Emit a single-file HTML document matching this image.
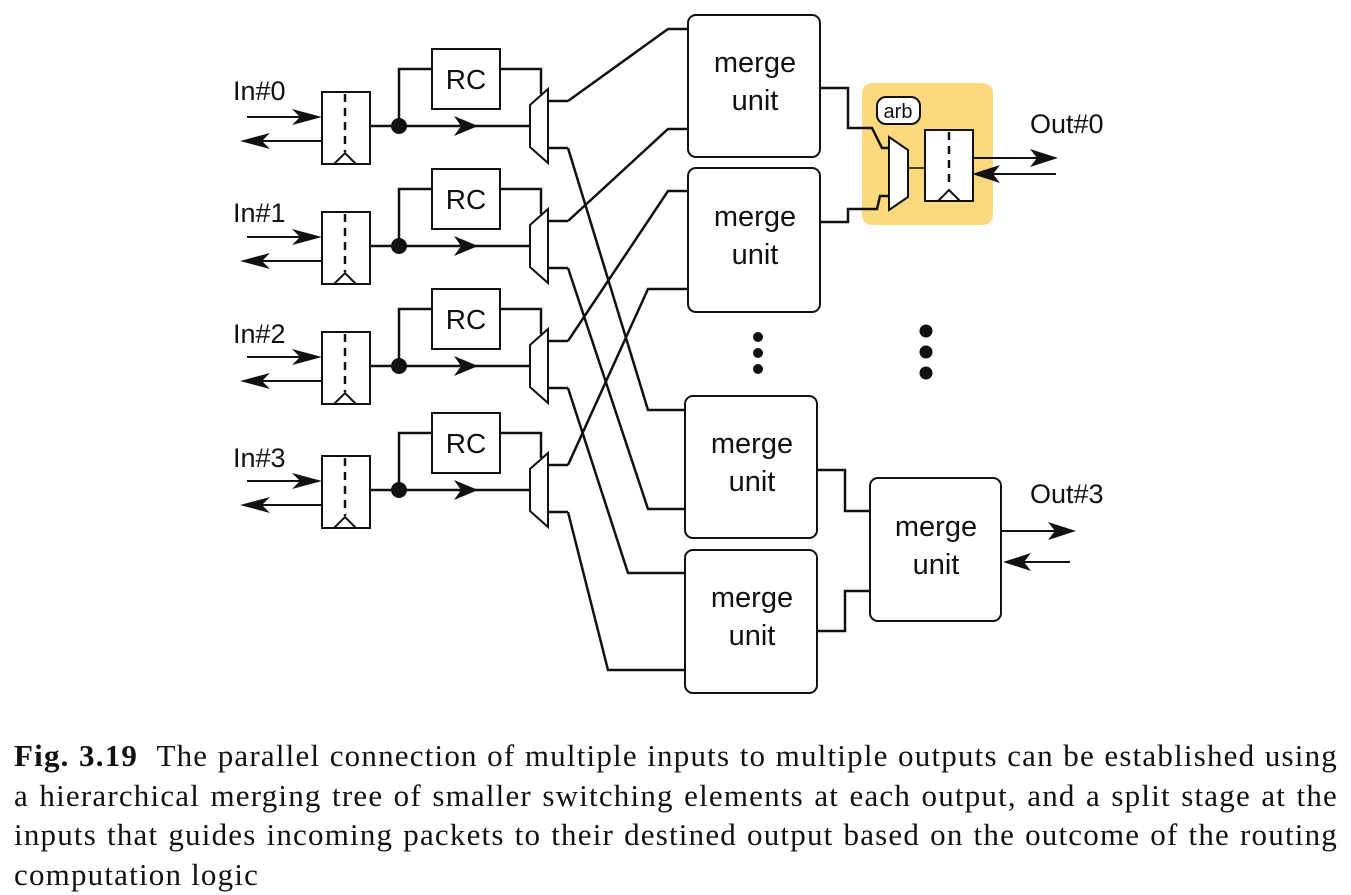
<!DOCTYPE html>
<html><head><meta charset="utf-8"><style>
html,body{margin:0;padding:0;background:#fff;}
.cap{position:absolute;left:14px;top:736px;width:1324px;font-family:"Liberation Serif",serif;font-size:31px;letter-spacing:1.2px;line-height:39.5px;text-align:justify;color:#111;}
</style></head><body>
<div style="position:relative;width:1351px;height:895px;overflow:hidden">
<svg width="1351" height="895" style="position:absolute;left:0;top:0" font-family="Liberation Sans, sans-serif">
<defs>
<g id="row" fill="none" stroke="#111">
  <rect x="322" y="-34" width="48" height="72" stroke-width="2" fill="#fff"/>
  <line x1="345" y1="-32" x2="345" y2="26" stroke-width="2.5" stroke-dasharray="8,6"/>
  <path d="M334 38 L345 27 L356 38" stroke-width="2"/>
  <line x1="247" y1="-9" x2="310" y2="-9" stroke-width="2"/>
  <path d="M322 -9 L292 -17 L300 -9 L292 -1 Z" fill="#111" stroke="none"/>
  <line x1="252" y1="15" x2="322" y2="15" stroke-width="2"/>
  <path d="M240 15 L270 7 L262 15 L270 23 Z" fill="#111" stroke="none"/>
  <line x1="370" y1="0" x2="530" y2="0" stroke-width="2.5"/>
  <path d="M478 0 L454 -10 L461 0 L454 10 Z" fill="#111" stroke="none"/>
  <circle cx="399" cy="0" r="8" fill="#111" stroke="none"/>
  <path d="M399 0 L399 -57 L432 -57 M500 -57 L541 -57 L541 -32" stroke-width="2.5"/>
  <rect x="432" y="-77" width="68" height="60" stroke-width="2" fill="#fff"/>
  <text x="466" y="-37" font-size="28" text-anchor="middle" fill="#111" stroke="none">RC</text>
  <path d="M548 -37 L530 -21 L530 21 L548 37 Z" stroke-width="2" fill="#fff"/>
  <path d="M548 -25 L568 -25 M548 22 L568 22" stroke-width="2.5"/>
</g>
</defs>
<g fill="#111" font-size="27">
<text x="233" y="100">In#0</text>
<text x="233" y="222">In#1</text>
<text x="233" y="343">In#2</text>
<text x="233" y="467">In#3</text>
</g>
<use href="#row" transform="translate(0,126)"/>
<use href="#row" transform="translate(0,246)"/>
<use href="#row" transform="translate(0,366)"/>
<use href="#row" transform="translate(0,490)"/>
<g fill="none" stroke="#111" stroke-width="2.5">
<path d="M568 101 L668 29 L688 29"/>
<path d="M568 221 L668 129 L688 129"/>
<path d="M568 341 L668 191 L688 191"/>
<path d="M568 465 L648 289 L688 289"/>
<path d="M568 148 L648 410 L685 410"/>
<path d="M568 268 L648 509 L685 509"/>
<path d="M568 388 L628 573 L685 573"/>
<path d="M568 512 L608 670 L685 670"/>
</g>
<rect x="862" y="83" width="131" height="142" rx="10" fill="#fbd97f"/>
<g fill="#fff" stroke="#111" stroke-width="2">
<rect x="688" y="15" width="132" height="142" rx="8"/>
<rect x="688" y="168" width="132" height="144" rx="8"/>
<rect x="685" y="396" width="132" height="142" rx="8"/>
<rect x="685" y="550" width="132" height="143" rx="8"/>
<rect x="870" y="478" width="131" height="143" rx="8"/>
</g>
<g font-size="29" fill="#111" text-anchor="middle">
<text x="755" y="72">merge</text><text x="755" y="110">unit</text>
<text x="755" y="226">merge</text><text x="755" y="264">unit</text>
<text x="752" y="453">merge</text><text x="752" y="491">unit</text>
<text x="752" y="607">merge</text><text x="752" y="645">unit</text>
<text x="936" y="536">merge</text><text x="936" y="574">unit</text>
</g>
<g fill="none" stroke="#111" stroke-width="2.5">
<path d="M820 88 L848 88 L848 128 L872 128 L882 148 L889 148"/>
<path d="M820 222 L848 222 L848 209 L877 209 L880 196 L889 196"/>
<path d="M817 470 L845 470 L845 511 L870 511"/>
<path d="M817 631 L845 631 L845 591 L870 591"/>
</g>
<path d="M889 137 L908 150 L908 197 L889 210 Z" fill="#fff" stroke="#111" stroke-width="2"/>
<line x1="908" y1="168" x2="925" y2="168" stroke="#111" stroke-width="1.5"/>
<rect x="925" y="130" width="48" height="71" fill="#fff" stroke="#111" stroke-width="2"/>
<line x1="949" y1="132" x2="949" y2="188" stroke="#111" stroke-width="2.5" stroke-dasharray="8,6"/>
<path d="M938 201 L949 190 L960 201" fill="none" stroke="#111" stroke-width="2"/>
<rect x="877" y="97" width="43" height="27" rx="9" fill="#fff" stroke="#111" stroke-width="2"/>
<text x="898" y="118" font-size="20" text-anchor="middle" fill="#111">arb</text>
<g stroke="#111" stroke-width="2">
<line x1="973" y1="158" x2="1045" y2="158"/>
<line x1="985" y1="174" x2="1056" y2="174"/>
<line x1="1001" y1="531" x2="1064" y2="531"/>
<line x1="1015" y1="562" x2="1070" y2="562"/>
</g>
<g fill="#111">
<path d="M1058 158 L1030 149 L1037 158 L1030 167 Z"/>
<path d="M972 174 L1000 165 L993 174 L1000 183 Z"/>
<path d="M1076 531 L1048 522 L1055 531 L1048 540 Z"/>
<path d="M1003 562 L1031 553 L1024 562 L1031 571 Z"/>
<text x="1030" y="133" font-size="27">Out#0</text>
<text x="1030" y="503" font-size="27">Out#3</text>
<circle cx="758" cy="337" r="5"/><circle cx="758" cy="353" r="5"/><circle cx="758" cy="369" r="5"/>
<circle cx="926" cy="331" r="6.5"/><circle cx="926" cy="352" r="6.5"/><circle cx="926" cy="373" r="6.5"/>
</g>
</svg>
<div class="cap"><b>Fig. 3.19</b>&nbsp; The parallel connection of multiple inputs to multiple outputs can be established using a hierarchical merging tree of smaller switching elements at each output, and a split stage at the inputs that guides incoming packets to their destined output based on the outcome of the routing computation logic</div>
</div>
</body></html>
